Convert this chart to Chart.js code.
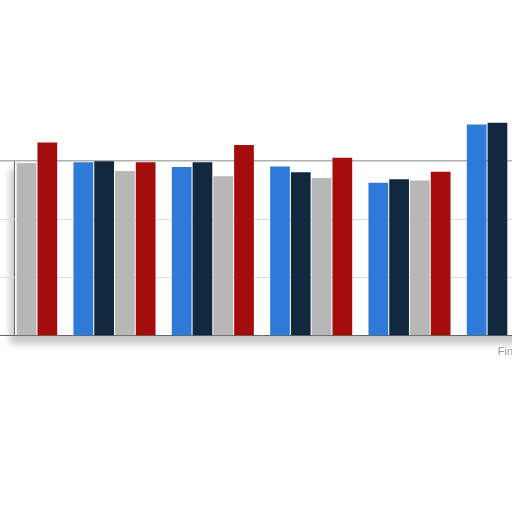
<!DOCTYPE html>
<html>
<head>
<meta charset="utf-8">
<script src="https://cdn.jsdelivr.net/npm/chart.js@4"></script>
<style>
  html, body { margin: 0; padding: 0; background: #fff; overflow: hidden; }
  #wrap { position: relative; width: 512px; height: 512px; overflow: hidden; }
  #paper {
    position: absolute; left: 14px; top: 161px; width: 520px; height: 175px;
    background: #fff; border-left: 1px solid #666;
    box-shadow: -4px 8px 7px rgba(0, 0, 0, 0.22);
  }
  #chartBox { position: absolute; left: -33px; top: 93px; }
</style>
</head>
<body>
<div id="wrap">
  <div id="paper"></div>
  <div id="chartBox"><canvas id="barChart" width="590" height="272"></canvas></div>
</div>
<script>
// categories (only the last label is visible in the crop)
const categories = ["", "", "", "", "", "Finland"];

// series values (null = outside the visible crop)
const seriesA = [null, 2.98, 2.90, 2.91, 2.63, 3.63];
const seriesB = [null, 3.00, 2.98, 2.81, 2.69, 3.66];
const seriesC = [2.97, 2.83, 2.74, 2.71, 2.67, null];
const seriesD = [3.32, 2.98, 3.28, 3.06, 2.82, null];

const yTicks = [0, 1, 2, 3, 4];

const colors = ["#2f7ad8", "#12283f", "#b7b7b7", "#a50d0d"];

const ctx = document.getElementById("barChart").getContext("2d");
new Chart(ctx, {
    type: "bar",
    data: {
        labels: categories,
        datasets: [
            { label: "A", data: seriesA, backgroundColor: colors[0] },
            { label: "B", data: seriesB, backgroundColor: colors[1] },
            { label: "C", data: seriesC, backgroundColor: colors[2] },
            { label: "D", data: seriesD, backgroundColor: colors[3] }
        ]
    },
    options: {
        responsive: false,
        animation: false,
        devicePixelRatio: 1,
        layout: { padding: { top: 10, left: 0, right: 0, bottom: 4 } },
        datasets: {
            bar: { categoryPercentage: 0.845, barPercentage: 0.95, borderWidth: 0 }
        },
        plugins: {
            legend: { display: false },
            tooltip: { enabled: false }
        },
        scales: {
            x: {
                grid: { display: false },
                border: { display: true, color: "#666", width: 1 },
                ticks: {
                    color: "#999",
                    font: { family: "Liberation Sans", size: 11 },
                    align: "start",
                    labelOffset: -10,
                    padding: 2,
                    maxRotation: 0,
                    autoSkip: false
                }
            },
            y: {
                min: yTicks[0],
                max: yTicks[yTicks.length - 1],
                afterBuildTicks: (axis) => {
                    axis.ticks = yTicks.map(v => ({ value: v }));
                },
                border: { display: false },
                ticks: { display: false },
                grid: {
                    drawTicks: false,
                    tickLength: 0,
                    color: (c) => {
                        if (c.tick.value === 3) return "#b0b0b0";
                        if (c.tick.value === 1 || c.tick.value === 2) return "#dddddd";
                        return "rgba(0,0,0,0)";
                    },
                    lineWidth: (c) => (c.tick.value === 3 ? 1.5 : 1),
                    borderDash: (c) => (c.tick.value === 3 ? [] : [1, 3])
                }
            }
        }
    }
});
</script>
</body>
</html>
